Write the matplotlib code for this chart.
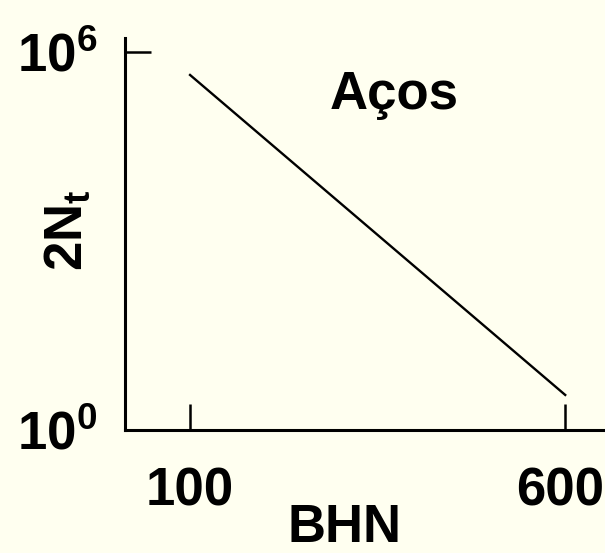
import numpy as np
import matplotlib
matplotlib.use("Agg")
import matplotlib.pyplot as plt
from matplotlib.transforms import ScaledTranslation

# dureza Brinell x vida de transição (aços)
bhn = [100, 600]
vida_2nt = [4.3e5, 3.6]

x_ticks = [100, 600]
x_labels = ["100", "600"]
y_ticks = [1, 1e6]
y_labels = [r"$10^0$", r"$10^6$"]

plt.rcParams["font.family"] = "Liberation Sans"
plt.rcParams["font.weight"] = "bold"
plt.rcParams["mathtext.fontset"] = "custom"
plt.rcParams["mathtext.rm"] = "Liberation Sans:bold"
plt.rcParams["mathtext.it"] = "Liberation Sans:bold"
plt.rcParams["mathtext.bf"] = "Liberation Sans:bold"

fundo = "#FFFFF0"
tam = 38
fig = plt.figure(figsize=(6.05, 5.53), dpi=100, facecolor=fundo)
ax = fig.add_axes([0.2066, 0.2224, 0.7934, 0.7089], facecolor=fundo)

ax.plot(bhn, vida_2nt, color="black", linewidth=1.7)

ax.set_yscale("log")
ax.set_xlim(13.3, 653)
ax.set_ylim(1, 10 ** 6.22)

ax.set_xticks(x_ticks)
ax.set_xticklabels(x_labels)
ax.set_yticks(y_ticks)
ax.set_yticklabels(y_labels)
ax.minorticks_off()

ax.tick_params(axis="both", direction="in", length=19, width=1.8,
               labelsize=tam, color="black")
ax.tick_params(axis="x", pad=26)
ax.tick_params(axis="y", pad=20)

# o rótulo "600" encosta na borda direita; puxa um pouco para dentro
rot_600 = ax.get_xticklabels()[-1]
rot_600.set_transform(rot_600.get_transform()
                      + ScaledTranslation(-4 / 72, 0, fig.dpi_scale_trans))

for lado in ["top", "right"]:
    ax.spines[lado].set_visible(False)
for lado in ["left", "bottom"]:
    ax.spines[lado].set_linewidth(2.2)

ax.set_xlabel("BHN", fontsize=tam, fontweight="bold")
ax.xaxis.set_label_coords(0.458, -0.25)
ax.xaxis.label.set_verticalalignment("center")

ax.set_ylabel(r"$2N_t$", fontsize=tam)
ax.yaxis.set_label_coords(-0.12, 0.51)
ax.yaxis.label.set_verticalalignment("center")

ax.text(0.56, 0.855, "Aços", transform=ax.transAxes, fontsize=tam,
        fontweight="bold", ha="center", va="center")

fig.savefig("out.png", dpi=100, facecolor=fundo)
